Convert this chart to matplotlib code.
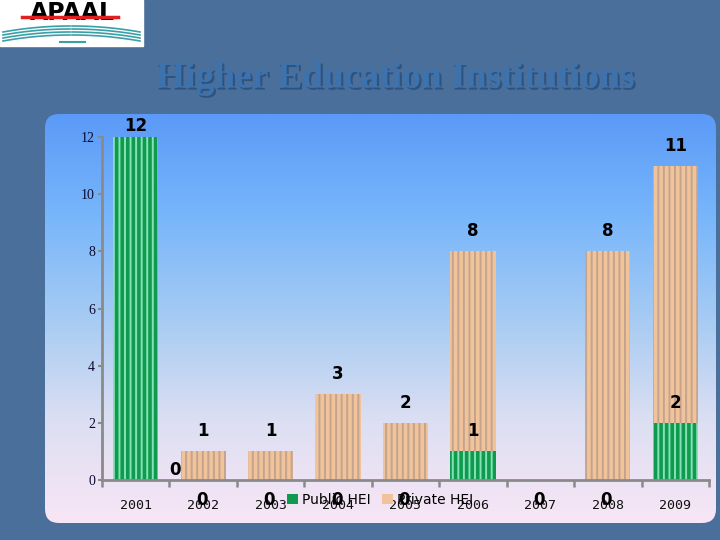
import matplotlib
matplotlib.use("Agg")
import matplotlib.pyplot as plt
import numpy as np
from matplotlib.patches import FancyBboxPatch, Rectangle
from matplotlib.colors import LinearSegmentedColormap
import matplotlib.patheffects as pe

years = ['2001', '2002', '2003', '2004', '2005', '2006', '2007', '2008', '2009']
public_hei = [12, 0, 0, 0, 0, 1, 0, 0, 2]
private_hei = [0, 1, 1, 3, 2, 7, 0, 8, 9]
private_labels = ['', '1', '1', '3', '2', '8', '', '8', '11']
yticks = [0, 2, 4, 6, 8, 10, 12]

plt.rcParams['hatch.linewidth'] = 1.4

fig = plt.figure(figsize=(7.2, 5.4), dpi=100)

# background in pixel coordinates
bg = fig.add_axes([0, 0, 1, 1])
bg.set_xlim(0, 720)
bg.set_ylim(540, 0)
bg.axis('off')
bg.add_patch(Rectangle((0, 0), 720, 540, color='#4a6f9b', zorder=0))

panel = FancyBboxPatch((45, 114), 671, 409, boxstyle='round,pad=0,rounding_size=14',
                       facecolor='none', edgecolor='none', zorder=1)
bg.add_patch(panel)
cmap = LinearSegmentedColormap.from_list('pg', ['#5b9af7', '#78b6fb', '#a6cbf3', '#dcdff2', '#f8e6f6'])
grad = np.linspace(0, 1, 256).reshape(-1, 1)
im = bg.imshow(grad, cmap=cmap, extent=(45, 716, 523, 114), aspect='auto', zorder=1)
im.set_clip_path(panel)

# logo
bg.add_patch(Rectangle((0, 0), 143, 46, color='white', zorder=2))
bg.text(72, 13, 'APAAL', ha='center', va='center', fontsize=17, fontweight='bold',
        family='Liberation Sans Narrow', color='black', zorder=3)
bg.plot([22, 118], [17, 17], color='#e02020', lw=2.5, zorder=4)
for off in [0, 3, 6, 9]:
    xs = np.linspace(3, 70, 30)
    bg.plot(xs, 30 + off + 6 * ((xs - 70) / 67) ** 2 - 4, color='#3aa0a8', lw=1.2, zorder=3)
    xs2 = np.linspace(72, 140, 30)
    bg.plot(xs2, 30 + off + 6 * ((xs2 - 72) / 68) ** 2 - 4, color='#3aa0a8', lw=1.2, zorder=3)
bg.plot([60, 85], [42, 42], color='#3aa0a8', lw=1.5, zorder=3)

# title
bg.text(395, 78, 'Higher Education Institutions', ha='center', va='center', fontsize=27,
        fontweight='bold', family='Liberation Serif', color='#3d72ad', zorder=3,
        path_effects=[pe.withSimplePatchShadow(offset=(1.5, -1.5), shadow_rgbFace='#2a4c76', alpha=0.8)])

# chart
ax = fig.add_axes([102 / 720, 1 - 480 / 540, 607 / 720, (480 - 137) / 540])
ax.set_facecolor('none')
x = np.arange(len(years))
w = 0.67
ax.bar(x, public_hei, w, color='#0f9a50', hatch='|||', edgecolor='#86e2b4', linewidth=0,
       label='Public HEI', zorder=2)
ax.bar(x, private_hei, w, bottom=public_hei, color='#f0c39a', hatch='|||', edgecolor='#c4a48e',
       linewidth=0, label='Private HEI', zorder=2)

ax.set_xlim(-0.5, len(years) - 0.5)
ax.set_ylim(0, 12)
ax.set_yticks(yticks)
ax.set_yticklabels([str(t) for t in yticks], family='Liberation Serif', fontsize=10, color='#0a0a30')
ax.set_xticks(np.arange(len(years) + 1) - 0.5)
ax.set_xticklabels([])
ax.set_xticks(x, minor=True)
ax.set_xticklabels(years, minor=True, family='DejaVu Sans Mono', fontsize=9.5, color='#101010')
ax.tick_params(axis='x', which='minor', length=0, pad=14)
ax.tick_params(axis='x', which='major', length=5, width=1.8, color='#8a8a8a', direction='out')
ax.tick_params(axis='y', length=3, width=1.5, color='#8a8a8a', pad=2)
for s in ['top', 'right']:
    ax.spines[s].set_visible(False)
for s in ['left', 'bottom']:
    ax.spines[s].set_color('#8a8a8a')
    ax.spines[s].set_linewidth(2)

lab = dict(ha='center', va='center', fontsize=12, fontweight='bold', color='black', clip_on=False, zorder=5)
for i in range(len(years)):
    tot = public_hei[i] + private_hei[i]
    if public_hei[i] == 0:
        ax.text(x[i] - 0.02, -0.7, '0', **lab)
    elif private_hei[i] > 0:
        ax.text(x[i], public_hei[i] + 0.7, str(public_hei[i]), **lab)
    else:
        ax.text(x[i], tot + 0.4, str(public_hei[i]), **lab)
    if private_labels[i]:
        ax.text(x[i], tot + 0.7, private_labels[i], **lab)
ax.text(0.58, 0.35, '0', **lab)

fig.legend(loc='center', bbox_to_anchor=(380 / 720, 1 - 500 / 540), ncol=2, frameon=False,
           fontsize=10, handlelength=0.8, handleheight=0.8, handletextpad=0.3, columnspacing=0.8)
for h in fig.legends[0].legend_handles:
    h.set_hatch(None)

fig.savefig('out.png', dpi=100)
